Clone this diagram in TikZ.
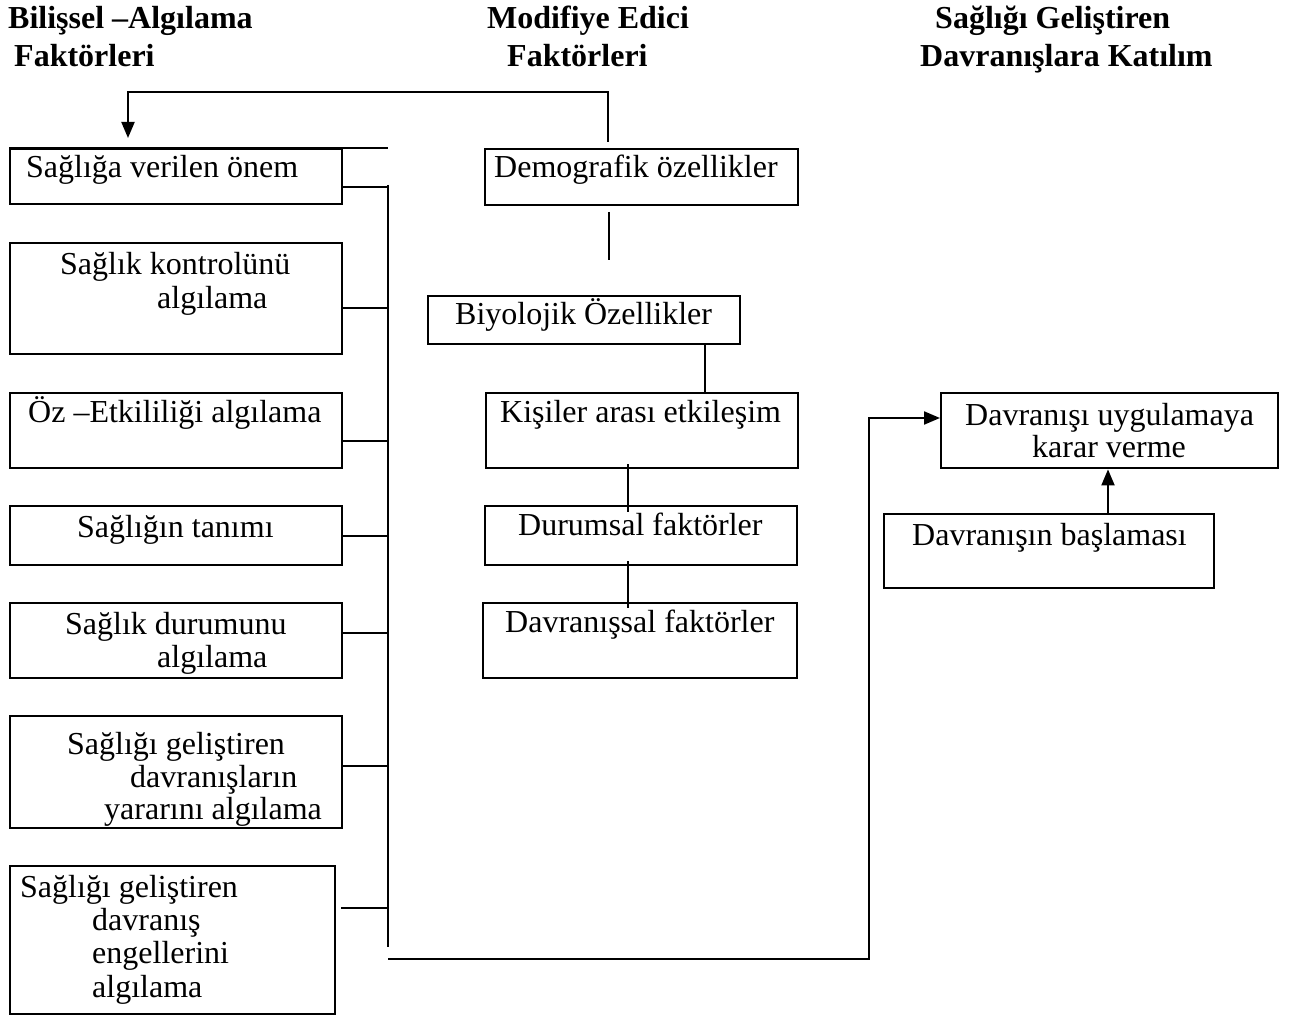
\documentclass[tikz,border=0pt]{standalone}
\usepackage{fontspec}
\setmainfont{Liberation Serif}
\usetikzlibrary{arrows.meta}
\begin{document}
\begin{tikzpicture}[x=1pt,y=-1pt,
  box/.style={draw, line width=2.4pt, inner sep=0pt, anchor=north west},
  txt/.style={inner sep=0pt, anchor=base west, font=\fontsize{32}{34}\selectfont},
  hdr/.style={inner sep=0pt, anchor=base west, font=\fontsize{32}{34}\selectfont\bfseries},
  conn/.style={line width=2pt},
  bus/.style={line width=1.6pt},
  arr/.style={-{Triangle[length=16pt,width=13pt]}}]
\useasboundingbox[fill=white] (0,0) rectangle (1294,1016);

% headers
\node[hdr] (h1a) at (8,29) {Bilişsel –Algılama};
\node[hdr] (h1b) at (14,67) {Faktörleri};
\node[hdr] (h2a) at (487,29) {Modifiye Edici};
\node[hdr] (h2b) at (507,67) {Faktörleri};
\node[hdr] (h3a) at (935,29) {Sağlığı Geliştiren};
\node[hdr] (h3b) at (920,67) {Davranışlara Katılım};

% left column boxes
\node[box, minimum width=332pt, minimum height=55pt] (b1) at (9,148) {};
\node[box, minimum width=332pt, minimum height=111pt] (b2) at (9,242) {};
\node[box, minimum width=332pt, minimum height=75pt] (b3) at (9,392) {};
\node[box, minimum width=332pt, minimum height=59pt] (b4) at (9,505) {};
\node[box, minimum width=332pt, minimum height=75pt] (b5) at (9,602) {};
\node[box, minimum width=332pt, minimum height=112pt] (b6) at (9,715) {};
\node[box, minimum width=325pt, minimum height=148pt] (b7) at (9,865) {};

\node[txt] (t1) at (26,178) {Sağlığa verilen önem};
\node[txt] (t2a) at (60,275) {Sağlık kontrolünü};
\node[txt] (t2b) at (157,309) {algılama};
\node[txt] (t3) at (28,423) {Öz –Etkililiği algılama};
\node[txt] (t4) at (77,537) {Sağlığın tanımı};
\node[txt] (t5a) at (65,634) {Sağlık durumunu};
\node[txt] (t5b) at (157,667) {algılama};
\node[txt] (t6a) at (67,754) {Sağlığı geliştiren};
\node[txt] (t6b) at (130,787) {davranışların};
\node[txt] (t6c) at (104,819) {yararını algılama};
\node[txt] (t7a) at (20,897) {Sağlığı geliştiren};
\node[txt] (t7b) at (92,930) {davranış};
\node[txt] (t7c) at (92,963) {engellerini};
\node[txt] (t7d) at (92,997) {algılama};

% middle column boxes
\node[box, minimum width=313pt, minimum height=56pt] (demo) at (484,148) {};
\node[box, minimum width=312pt, minimum height=48pt] (bio) at (427,295) {};
\node[box, minimum width=312pt, minimum height=75pt] (kisi) at (485,392) {};
\node[box, minimum width=312pt, minimum height=59pt] (durum) at (484,505) {};
\node[box, minimum width=314pt, minimum height=75pt] (davr) at (482,602) {};

\node[txt] (tdemo) at (494,178) {Demografik özellikler};
\node[txt] (tbio) at (455,325) {Biyolojik Özellikler};
\node[txt] (tkisi) at (500,422) {Kişiler arası etkileşim};
\node[txt] (tdurum) at (518,535) {Durumsal faktörler};
\node[txt] (tdavr) at (505,632) {Davranışsal faktörler};

% right column boxes
\node[box, minimum width=337pt, minimum height=75pt] (karar) at (940,392) {};
\node[box, minimum width=330pt, minimum height=74pt] (basla) at (883,513) {};

\node[txt] (tkarara) at (965,425) {Davranışı uygulamaya};
\node[txt] (tkararb) at (1032,457) {karar verme};
\node[txt] (tbasla) at (912,545) {Davranışın başlaması};

% bus and connectors from left column
\coordinate (busT) at (388,185);
\coordinate (busB) at (388,947);
\draw[bus] (busT) -- (busB);
\draw[line width=2.4pt] (b1.north west) -- (busT |- b1.north);
\draw[conn] (b1.east |- 0,187) -- (busT |- 0,187);
\draw[conn] (b2.east |- 0,308) -- (busT |- 0,308);
\draw[conn] (b3.east |- 0,441) -- (busT |- 0,441);
\draw[conn] (b4.east |- 0,536) -- (busT |- 0,536);
\draw[conn] (b5.east |- 0,633) -- (busT |- 0,633);
\draw[conn] (b6.east |- 0,766) -- (busT |- 0,766);
\coordinate (b7c) at (341,908);
\draw[conn] (b7c) -- (busT |- b7c);

% bottom route to decision box
\coordinate (botL) at (388,959);
\coordinate (botR) at (869,959);
\draw[conn,arr] (botL) -- (botR) -- (botR |- 0,418) -- (karar.west |- 0,418);

% feedback arrow from demographic to first box
\coordinate (fbS) at (608,142);
\coordinate (fbE) at (128,138);
\draw[conn,arr] (fbS) -- (fbS |- 0,92) -- (fbE |- 0,92) -- (fbE);

% middle column links
\draw[conn] (609,212) -- (609,260);
\draw[conn] (bio.south -| 705,0) -- (kisi.north -| 705,0);
\draw[conn] (628,464) -- (628,512);
\draw[conn] (628,561) -- (628,608);

% start -> decision
\draw[conn,arr] (basla.north -| 1108,0) -- (karar.south -| 1108,0);
\end{tikzpicture}
\end{document}
